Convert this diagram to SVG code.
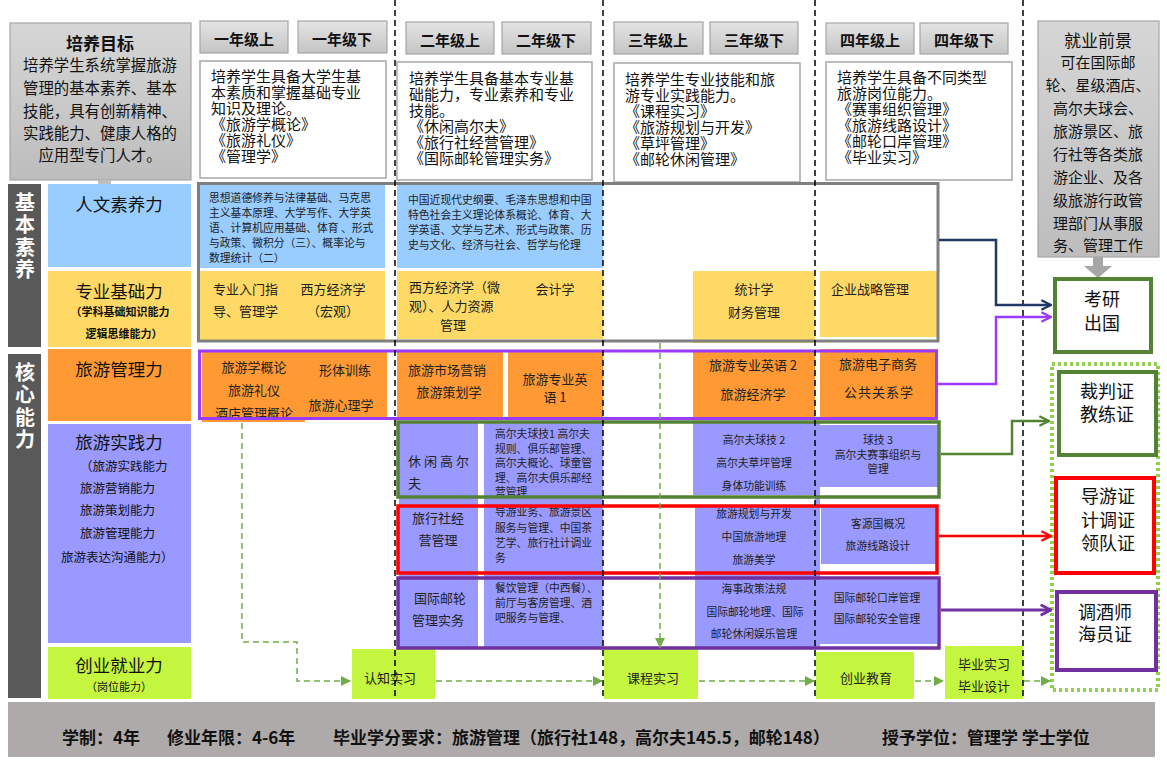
<svg xmlns="http://www.w3.org/2000/svg" width="1167" height="766" viewBox="0 0 1167 766">
<style>
text{font-family:"Noto Sans CJK SC","Noto Sans",sans-serif;dominant-baseline:central;fill:#111}
tspan{dominant-baseline:central}
.c{text-anchor:middle}
.b{font-weight:bold}
.hd{font-size:15px;font-weight:bold;text-anchor:middle}
.ds{font-size:15px}
.lb{font-size:17.5px;text-anchor:middle}
.s11{font-size:10.8px;fill:#222}
.s13{font-size:13px;fill:#222}
.btn{fill:url(#gBtn);stroke:#A6A6A6;stroke-width:1.2}
.desc{fill:#fff;stroke:#A6A6A6;stroke-width:1.5}
.blue{fill:#99CCFF}.yel{fill:#FFD966}.org{fill:#FF9933}.lav{fill:#9999FF}.lime{fill:#C4F53F}
.bar{fill:#595959}
.vl{stroke:#000;stroke-width:1.5;stroke-dasharray:6 4;fill:none}
.gd{stroke:#70AD47;stroke-width:1.5;stroke-dasharray:6 4;fill:none}
.bt{fill:#fff;font-size:20px;font-weight:bold;writing-mode:vertical-rl;letter-spacing:2.5px}
.out{fill:#fff;stroke-width:4}
.ot{font-size:18px;text-anchor:middle}
</style>
<defs>
<linearGradient id="gBtn" x1="0" y1="0" x2="0" y2="1"><stop offset="0" stop-color="#E4E4E4"/><stop offset="1" stop-color="#C4C4C4"/></linearGradient>
<linearGradient id="gBox" x1="0" y1="0" x2="0" y2="1"><stop offset="0" stop-color="#D6D6D6"/><stop offset="1" stop-color="#BDBDBD"/></linearGradient>
<marker id="aNavy" viewBox="0 0 10 10" refX="9" refY="5" markerWidth="12" markerHeight="12" markerUnits="userSpaceOnUse" orient="auto"><path d="M1,1 L9,5 L1,9" fill="none" stroke="#1F3864" stroke-width="2"/></marker>
<marker id="aPur" viewBox="0 0 10 10" refX="9" refY="5" markerWidth="12" markerHeight="12" markerUnits="userSpaceOnUse" orient="auto"><path d="M1,1 L9,5 L1,9" fill="none" stroke="#9B3BFF" stroke-width="2"/></marker>
<marker id="aGrn" viewBox="0 0 10 10" refX="9" refY="5" markerWidth="12" markerHeight="12" markerUnits="userSpaceOnUse" orient="auto"><path d="M1,1 L9,5 L1,9" fill="none" stroke="#548235" stroke-width="2"/></marker>
<marker id="aRed" viewBox="0 0 10 10" refX="9" refY="5" markerWidth="12" markerHeight="12" markerUnits="userSpaceOnUse" orient="auto"><path d="M1,1 L9,5 L1,9" fill="none" stroke="#FF0000" stroke-width="2"/></marker>
<marker id="aDp" viewBox="0 0 10 10" refX="9" refY="5" markerWidth="13" markerHeight="13" markerUnits="userSpaceOnUse" orient="auto"><path d="M1,1 L9,5 L1,9" fill="none" stroke="#7030A0" stroke-width="2.2"/></marker>
<marker id="aLg" viewBox="0 0 10 10" refX="10" refY="5" markerWidth="10" markerHeight="10" markerUnits="userSpaceOnUse" orient="auto"><path d="M0,0 L10,5 L0,10 z" fill="#70AD47"/></marker>
</defs>
<rect width="1167" height="766" fill="#fff"/>

<!-- Goal -->
<g id="goal">
<rect x="10" y="23" width="181" height="157" fill="url(#gBox)" stroke="#A6A6A6" stroke-width="1.2"/>
<rect x="98" y="180" width="13" height="4" fill="#BFBFBF"/>
<text x="100" y="42" class="c b" font-size="17">培养目标</text>
<text class="c" font-size="15.4"><tspan x="100" y="64">培养学生系统掌握旅游</tspan><tspan x="100" y="87">管理的基本素养、基本</tspan><tspan x="100" y="110">技能，具有创新精神、</tspan><tspan x="100" y="132">实践能力、健康人格的</tspan><tspan x="100" y="154">应用型专门人才。</tspan></text>
</g>

<!-- Year headers -->
<g id="year1-up"><rect class="btn" x="200" y="21" width="88" height="32"/><text x="244" y="38" class="hd">一年级上</text></g>
<g id="year1-down"><rect class="btn" x="298" y="21" width="89" height="32"/><text x="342" y="38" class="hd">一年级下</text></g>
<g id="year2-up"><rect class="btn" x="406" y="22" width="88" height="32"/><text x="450" y="39" class="hd">二年级上</text></g>
<g id="year2-down"><rect class="btn" x="502" y="22" width="89" height="32"/><text x="546" y="39" class="hd">二年级下</text></g>
<g id="year3-up"><rect class="btn" x="614" y="22" width="89" height="32"/><text x="658" y="39" class="hd">三年级上</text></g>
<g id="year3-down"><rect class="btn" x="710" y="22" width="88" height="32"/><text x="754" y="39" class="hd">三年级下</text></g>
<g id="year4-up"><rect class="btn" x="826" y="23" width="88" height="31"/><text x="870" y="39" class="hd">四年级上</text></g>
<g id="year4-down"><rect class="btn" x="920" y="23" width="88" height="31"/><text x="964" y="39" class="hd">四年级下</text></g>

<!-- Year descriptions -->
<g id="desc1"><rect class="desc" x="200" y="61" width="186" height="117"/>
<text class="ds"><tspan x="211" y="75">培养学生具备大学生基</tspan><tspan x="211" y="91">本素质和掌握基础专业</tspan><tspan x="211" y="107">知识及理论。</tspan><tspan x="211" y="123">《旅游学概论》</tspan><tspan x="211" y="139">《旅游礼仪》</tspan><tspan x="211" y="155">《管理学》</tspan></text></g>
<g id="desc2"><rect class="desc" x="397" y="62" width="195" height="118"/>
<text class="ds"><tspan x="409" y="77">培养学生具备基本专业基</tspan><tspan x="409" y="93">础能力，专业素养和专业</tspan><tspan x="409" y="109">技能。</tspan><tspan x="409" y="125">《休闲高尔夫》</tspan><tspan x="409" y="141">《旅行社经营管理》</tspan><tspan x="409" y="157">《国际邮轮管理实务》</tspan></text></g>
<g id="desc3"><rect class="desc" x="614" y="63" width="186" height="119"/>
<text class="ds"><tspan x="625" y="78">培养学生专业技能和旅</tspan><tspan x="625" y="94">游专业实践能力。</tspan><tspan x="625" y="110">《课程实习》</tspan><tspan x="625" y="126">《旅游规划与开发》</tspan><tspan x="625" y="142">《草坪管理》</tspan><tspan x="625" y="158">《邮轮休闲管理》</tspan></text></g>
<g id="desc4"><rect class="desc" x="826" y="62" width="186" height="118"/>
<text class="ds"><tspan x="837" y="76">培养学生具备不同类型</tspan><tspan x="837" y="92">旅游岗位能力。</tspan><tspan x="837" y="108">《赛事组织管理》</tspan><tspan x="837" y="124">《旅游线路设计》</tspan><tspan x="837" y="140">《邮轮口岸管理》</tspan><tspan x="837" y="156">《毕业实习》</tspan></text></g>

<!-- Employment -->
<g id="employment">
<rect x="1038" y="21" width="121" height="236" fill="url(#gBox)" stroke="#A6A6A6" stroke-width="1.2"/>
<text x="1098" y="39" class="c" font-size="17">就业前景</text>
<text class="c" font-size="15"><tspan x="1098" y="61">可在国际邮</tspan><tspan x="1098" y="84">轮、星级酒店、</tspan><tspan x="1098" y="107">高尔夫球会、</tspan><tspan x="1098" y="130">旅游景区、旅</tspan><tspan x="1098" y="153">行社等各类旅</tspan><tspan x="1098" y="176">游企业、及各</tspan><tspan x="1098" y="199">级旅游行政管</tspan><tspan x="1098" y="222">理部门从事服</tspan><tspan x="1098" y="244">务、管理工作</tspan></text>
<polygon points="1093,257 1103,257 1103,266 1112,266 1098,278 1084,266 1093,266" fill="#A6A6A6"/>
</g>

<!-- Left bars and row labels -->
<g id="bar-basic"><rect class="bar" x="8" y="184" width="33" height="163"/>
<text class="bt" x="25" y="192">基本素养</text></g>
<g id="bar-core"><rect class="bar" x="8" y="354" width="33" height="344"/>
<text class="bt" x="25" y="362">核心能力</text></g>

<g id="label-renwen"><rect class="blue" x="48" y="184" width="143" height="83"/><text class="lb" x="119" y="203">人文素养力</text></g>
<g id="label-zhuanye"><rect class="yel" x="48" y="271" width="143" height="76"/><text class="lb" x="119" y="290">专业基础力</text>
<text class="c b" font-size="11"><tspan x="120" y="311">（学科基础知识能力</tspan><tspan x="124" y="333">逻辑思维能力）</tspan></text></g>
<g id="label-guanli"><rect class="org" x="48" y="349" width="143" height="72"/><text class="lb" x="119" y="368">旅游管理力</text></g>
<g id="label-shijian"><rect class="lav" x="48" y="424" width="143" height="219"/><text class="lb" x="119" y="441">旅游实践力</text>
<text font-size="12.5"><tspan x="80" y="465">（旅游实践能力</tspan><tspan x="80" y="487">旅游营销能力</tspan><tspan x="80" y="509">旅游策划能力</tspan><tspan x="80" y="532">旅游管理能力</tspan><tspan x="61" y="556">旅游表达沟通能力）</tspan></text></g>
<g id="label-chuangye"><rect class="lime" x="48" y="647" width="143" height="52"/><text class="lb" x="119" y="664">创业就业力</text>
<text class="c" x="119" y="686" font-size="11">（岗位能力）</text></g>

<!-- Row: 人文 -->
<g id="renwen-y1"><rect class="blue" x="199" y="184" width="186" height="84"/>
<text class="s11"><tspan x="209" y="197">思想道德修养与法律基础、马克思</tspan><tspan x="209" y="212">主义基本原理、大学写作、大学英</tspan><tspan x="209" y="227">语、计算机应用基础、体育 、形式</tspan><tspan x="209" y="242">与政策、微积分（三）、概率论与</tspan><tspan x="209" y="257">数理统计（二）</tspan></text></g>
<g id="renwen-y2"><rect class="blue" x="397" y="184" width="206" height="84"/>
<text class="s11"><tspan x="408" y="199">中国近现代史纲要、毛泽东思想和中国</tspan><tspan x="408" y="214">特色社会主义理论体系概论、体育、大</tspan><tspan x="408" y="229">学英语、文学与艺术、形式与政策、历</tspan><tspan x="408" y="244">史与文化、经济与社会、哲学与伦理</tspan></text></g>

<!-- Row: 专业基础 -->
<g id="zhuanye-y1"><rect class="yel" x="199" y="271" width="186" height="70"/>
<text class="s13"><tspan x="213" y="288">专业入门指</tspan><tspan x="213" y="310">导、管理学</tspan></text>
<text class="s13 c"><tspan x="333" y="288">西方经济学</tspan><tspan x="333" y="310">（宏观）</tspan></text></g>
<g id="zhuanye-y2"><rect class="yel" x="397" y="271" width="206" height="68"/>
<text class="s13"><tspan x="409" y="286">西方经济学（微</tspan><tspan x="409" y="305">观）、人力资源</tspan><tspan x="440" y="324">管理</tspan></text>
<text class="s13 c" x="555" y="288">会计学</text></g>
<g id="zhuanye-y3"><rect class="yel" x="693" y="271" width="122" height="72"/>
<text class="s13 c"><tspan x="754" y="288">统计学</tspan><tspan x="754" y="311">财务管理</tspan></text></g>
<g id="zhuanye-y4"><rect class="yel" x="820" y="271" width="119" height="66"/>
<text class="s13" x="831" y="288">企业战略管理</text></g>

<!-- Row: 旅游管理 -->
<g id="guanli-y1"><rect class="org" x="202" y="351" width="185" height="68"/><rect class="org" x="202" y="418" width="103" height="4"/>
<text class="s13 c"><tspan x="254" y="366">旅游学概论</tspan><tspan x="254" y="389">旅游礼仪</tspan><tspan x="254" y="412">酒店管理概论</tspan></text>
<text class="s13 c"><tspan x="345" y="369">形体训练</tspan><tspan x="341" y="404">旅游心理学</tspan></text></g>
<g id="guanli-y2a"><rect class="org" x="397" y="351" width="106" height="67"/>
<text class="s13 c"><tspan x="447" y="369">旅游市场营销</tspan><tspan x="449" y="391">旅游策划学</tspan></text></g>
<g id="guanli-y2b"><rect class="org" x="508" y="351" width="95" height="67"/>
<text class="s13 c"><tspan x="555" y="378">旅游专业英</tspan><tspan x="555" y="396">语 1</tspan></text></g>
<g id="guanli-y3"><rect class="org" x="693" y="350" width="122" height="68"/>
<text class="s13 c"><tspan x="753" y="364">旅游专业英语 2</tspan><tspan x="753" y="393">旅游经济学</tspan></text></g>
<g id="guanli-y4"><rect class="org" x="820" y="349" width="118" height="69"/>
<text class="s13 c"><tspan x="878" y="363">旅游电子商务</tspan><tspan x="879" y="391" letter-spacing="1">公共关系学</tspan></text></g>

<!-- Row: 旅游实践 -->
<g id="shijian-cells">
<rect class="lav" x="399" y="423" width="79" height="225"/>
<rect class="lav" x="484" y="423" width="119" height="225"/>
<rect class="lav" x="693" y="423" width="122" height="72"/>
<rect class="lav" x="695" y="505" width="120" height="143"/>
<rect class="lav" x="815" y="423" width="5" height="225"/>
</g>
<g id="golf">
<text class="s13"><tspan x="408" y="460" letter-spacing="3">休闲高尔</tspan><tspan x="408" y="482">夫</tspan></text>
<text class="s11"><tspan x="495" y="433">高尔夫球技1 高尔夫</tspan><tspan x="495" y="447.5">规则、俱乐部管理、</tspan><tspan x="495" y="462">高尔夫概论、球童管</tspan><tspan x="495" y="476.5">理、高尔夫俱乐部经</tspan><tspan x="495" y="491">营管理</tspan></text>
<text class="s11 c"><tspan x="754" y="439">高尔夫球技 2</tspan><tspan x="754" y="462">高尔夫草坪管理</tspan><tspan x="754" y="485">身体功能训练</tspan></text>
<rect class="lav" x="820" y="425" width="118" height="62"/>
<text class="s11 c"><tspan x="878" y="439">球技 3</tspan><tspan x="878" y="453.5">高尔夫赛事组织与</tspan><tspan x="878" y="468">管理</tspan></text>
</g>
<g id="travel">
<text class="s13 c"><tspan x="438" y="517">旅行社经</tspan><tspan x="438" y="539">营管理</tspan></text>
<text class="s11"><tspan x="495" y="511">导游业务、旅游景区</tspan><tspan x="495" y="526.5">服务与管理、中国茶</tspan><tspan x="495" y="542">艺学、旅行社计调业</tspan><tspan x="495" y="557">务</tspan></text>
<text class="s11 c"><tspan x="754" y="513">旅游规划与开发</tspan><tspan x="754" y="536">中国旅游地理</tspan><tspan x="754" y="559">旅游美学</tspan></text>
<rect class="lav" x="821" y="507" width="115" height="57"/>
<text class="s11 c"><tspan x="878" y="523">客源国概况</tspan><tspan x="878" y="545">旅游线路设计</tspan></text>
</g>
<g id="cruise">
<text class="s13 c"><tspan x="440" y="597">国际邮轮</tspan><tspan x="438" y="619">管理实务</tspan></text>
<text class="s11"><tspan x="495" y="587">餐饮管理（中西餐）、</tspan><tspan x="495" y="602">前厅与客房管理、酒</tspan><tspan x="495" y="617">吧服务与管理、</tspan></text>
<text class="s11 c"><tspan x="754" y="588">海事政策法规</tspan><tspan x="755" y="611">国际邮轮地理、国际</tspan><tspan x="754" y="633">邮轮休闲娱乐管理</tspan></text>
<rect class="lav" x="820" y="580" width="117" height="64"/>
<text class="s11 c"><tspan x="877" y="597">国际邮轮口岸管理</tspan><tspan x="877" y="618">国际邮轮安全管理</tspan></text>
</g>

<!-- Row: 创业就业 -->
<g id="renzhi"><rect class="lime" x="352" y="649" width="83" height="50"/><text class="s13 c" x="390" y="677">认知实习</text></g>
<g id="kecheng"><rect class="lime" x="604" y="649" width="94" height="50"/><text class="s13 c" x="653" y="677">课程实习</text></g>
<g id="chuangye"><rect class="lime" x="816" y="652" width="98" height="47"/><text class="s13 c" x="866" y="677">创业教育</text></g>
<g id="biye"><rect class="lime" x="945" y="646" width="78" height="53"/><text class="s13 c"><tspan x="984" y="663">毕业实习</tspan><tspan x="984" y="685">毕业设计</tspan></text></g>

<!-- Frames -->
<g id="frames" fill="none">
<rect x="198.5" y="183.5" width="739.5" height="157.5" stroke="#7F7F7F" stroke-width="3"/>
<rect x="199.5" y="351" width="737" height="67.5" stroke="#9B3BFF" stroke-width="3"/>
<rect x="398" y="422" width="541" height="75" stroke="#548235" stroke-width="3.5"/>
<rect x="398" y="506" width="539" height="67" stroke="#FF0000" stroke-width="3.5"/>
<rect x="398" y="578" width="541" height="70" stroke="#7030A0" stroke-width="3.5"/>
</g>

<!-- Outcome nodes -->
<g id="kaoyan"><rect class="out" x="1055" y="279" width="96" height="73" stroke="#548235"/>
<text class="ot"><tspan x="1102" y="298">考研</tspan><tspan x="1102" y="322">出国</tspan></text></g>
<rect id="cert-frame" x="1052" y="364" width="106" height="326" fill="none" stroke="#92D050" stroke-width="4" stroke-dasharray="3 3"/>
<g id="caipan"><rect class="out" x="1059" y="372" width="97" height="83" stroke="#548235"/>
<text class="ot"><tspan x="1107" y="390">裁判证</tspan><tspan x="1107" y="413">教练证</tspan></text></g>
<g id="daoyou"><rect class="out" x="1056" y="478" width="98" height="95" stroke="#FF0000"/>
<text class="ot"><tspan x="1108" y="495">导游证</tspan><tspan x="1108" y="519">计调证</tspan><tspan x="1108" y="542">领队证</tspan></text></g>
<g id="tiaojiu"><rect class="out" x="1057" y="592" width="99" height="78" stroke="#7030A0"/>
<text class="ot"><tspan x="1105" y="611">调酒师</tspan><tspan x="1105" y="633">海员证</tspan></text></g>

<!-- Year divider lines -->
<g id="dividers">
<line class="vl" x1="395" y1="0" x2="395" y2="700"/>
<line class="vl" x1="603" y1="0" x2="603" y2="700"/>
<line class="vl" x1="815" y1="0" x2="815" y2="700"/>
<line class="vl" x1="1023" y1="0" x2="1023" y2="700"/>
</g>

<!-- Connectors -->
<g id="connectors" fill="none">
<polyline points="939,240 996,240 996,305 1051,305" stroke="#1F3864" stroke-width="2.5" marker-end="url(#aNavy)"/>
<polyline points="938,384 996,384 996,317 1051,317" stroke="#9B3BFF" stroke-width="2.5" marker-end="url(#aPur)"/>
<polyline points="941,454 1012,454 1012,421 1049,421" stroke="#548235" stroke-width="2.5" marker-end="url(#aGrn)"/>
<line x1="939" y1="536" x2="1051" y2="536" stroke="#FF0000" stroke-width="2.5" marker-end="url(#aRed)"/>
<line x1="941" y1="610" x2="1051" y2="610" stroke="#7030A0" stroke-width="3" marker-end="url(#aDp)"/>
<path class="gd" d="M242,423 V642 H297 V681 H351" marker-end="url(#aLg)"/>
<path class="gd" d="M436,681 H603" marker-end="url(#aLg)"/>
<path class="gd" d="M660,343 V648" marker-end="url(#aLg)"/>
<path class="gd" d="M699,681 H815" marker-end="url(#aLg)"/>
<path class="gd" d="M915,681 H944" marker-end="url(#aLg)"/>
<path class="gd" d="M1024,681 H1051" marker-end="url(#aLg)"/>
</g>

<!-- Bottom bar -->
<g id="footer">
<rect x="8" y="702" width="1147" height="55" fill="#AEAAAA"/>
<text class="b" x="62" y="736" font-size="17">学制：4年</text>
<text class="b" x="167" y="736" font-size="17">修业年限：4-6年</text>
<text class="b" x="333" y="736" font-size="17">毕业学分要求：旅游管理（旅行社148，高尔夫145.5，邮轮148）</text>
<text class="b" x="882" y="736" font-size="17">授予学位：管理学 学士学位</text>
</g>
</svg>
